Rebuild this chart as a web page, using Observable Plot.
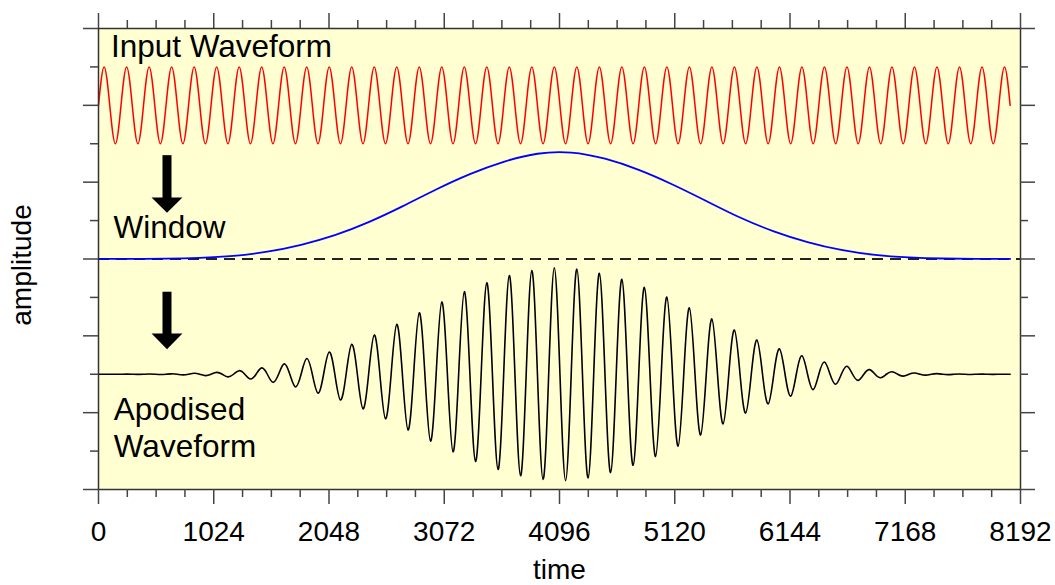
<!DOCTYPE html>
<html>
<head>
<meta charset="utf-8">
<script src="https://cdn.jsdelivr.net/npm/d3@7"></script>
<script src="https://cdn.jsdelivr.net/npm/@observablehq/plot@0.6"></script>
<style>
  html, body { margin: 0; padding: 0; background: #ffffff; }
  #chart { width: 1055px; height: 585px; }
</style>
</head>
<body>
<div id="chart"></div>
<script>
// ---- data ----
// times of the waveform extrema (peaks / troughs) and zero crossings
const extremaTimes = [50,150,250,350,450,550,650,750,850,950,1050,1150,1250,1350,1450,1550,1650,1750,1850,1950,2050,2150,2250,2350,2450,2550,2650,2750,2850,2950,3050,3150,3250,3350,3450,3550,3650,3750,3850,3950,4050,4150,4250,4350,4450,4550,4650,4750,4850,4950,5050,5150,5250,5350,5450,5550,5650,5750,5850,5950,6050,6150,6250,6350,6450,6550,6650,6750,6850,6950,7050,7150,7250,7350,7450,7550,7650,7750,7850,7950,8050];
const zeroTimes = [0,100,200,300,400,500,600,700,800,900,1000,1100,1200,1300,1400,1500,1600,1700,1800,1900,2000,2100,2200,2300,2400,2500,2600,2700,2800,2900,3000,3100,3200,3300,3400,3500,3600,3700,3800,3900,4000,4100,4200,4300,4400,4500,4600,4700,4800,4900,5000,5100,5200,5300,5400,5500,5600,5700,5800,5900,6000,6100,6200,6300,6400,6500,6600,6700,6800,6900,7000,7100,7200,7300,7400,7500,7600,7700,7800,7900,8000,8100];
// input waveform: value at each extremum
const inputExtrema = [1,-1,1,-1,1,-1,1,-1,1,-1,1,-1,1,-1,1,-1,1,-1,1,-1,1,-1,1,-1,1,-1,1,-1,1,-1,1,-1,1,-1,1,-1,1,-1,1,-1,1,-1,1,-1,1,-1,1,-1,1,-1,1,-1,1,-1,1,-1,1,-1,1,-1,1,-1,1,-1,1,-1,1,-1,1,-1,1,-1,1,-1,1,-1,1,-1,1,-1,1];
// apodised waveform: value at each extremum
const apodisedExtrema = [0.001,-0.001,0.002,-0.003,0.005,-0.007,0.011,-0.017,0.025,-0.035,0.049,-0.068,0.093,-0.125,0.165,-0.21,0.27,-0.33,0.41,-0.49,0.58,-0.67,0.78,-0.90,1.02,-1.16,1.30,-1.45,1.60,-1.74,1.88,-2.02,2.15,-2.27,2.38,-2.48,2.57,-2.64,2.70,-2.74,2.77,-2.77,2.74,-2.70,2.63,-2.56,2.47,-2.37,2.26,-2.14,2.01,-1.87,1.73,-1.58,1.44,-1.29,1.15,-1.01,0.89,-0.77,0.66,-0.57,0.48,-0.40,0.32,-0.26,0.21,-0.16,0.12,-0.09,0.066,-0.048,0.034,-0.024,0.016,-0.011,0.007,-0.005,0.003,-0.002,0.001];
// window function samples
const windowTimes = [0,300,600,900,1200,1500,1800,2100,2400,2700,3000,3300,3600,3900,4200,4500,4800,5100,5400,5700,6000,6300,6600,6900,7200,7500,7800,8100];
const windowValues = [0.001,0.002,0.009,0.03,0.08,0.19,0.37,0.62,0.96,1.37,1.81,2.21,2.53,2.74,2.77,2.61,2.32,1.94,1.51,1.08,0.72,0.44,0.235,0.105,0.041,0.013,0.004,0.001];
// ticks
const majorTimeTicks = [0,1024,2048,3072,4096,5120,6144,7168,8192];
const minorTimeTicks = [256,512,768,1280,1536,1792,2304,2560,2816,3328,3584,3840,4352,4608,4864,5376,5632,5888,6400,6656,6912,7424,7680,7936];
const majorAmpTicks = [0,2,4,6,8,10,12];
const minorAmpTicks = [1,3,5,7,9,11];
// annotation texts
const labelTexts = ["Input Waveform", "Window", "Apodised\nWaveform"];

// ---- layout (kept apart from the data) ----
const baseInput = 10, baseWindow = 6, baseApod = 3;
const labelPos = [{t: 110, y: 11.25}, {t: 133, y: 6.54}, {t: 136, y: 0.84}];
const arrowPos = [{id: 0, t: 613, top: 8.69, base: 7.57, tip: 7.19},
                  {id: 1, t: 613, top: 5.135, base: 4.03, tip: 3.64}];
const shaftHalf = 40, headHalf = 137;
// tick lengths expressed in scale units (15px and 8px)
const tMajorLenY = 0.3905, tMinorLenY = 0.2082;   // along y
const tMajorLenX = 133.3, tMinorLenX = 71.1;      // along x

function waveTable(extrema, base) {
  const rows = [];
  extrema.forEach((v, i) => {
    rows.push({t: zeroTimes[i], v: base});
    rows.push({t: extremaTimes[i], v: base + v});
  });
  rows.push({t: zeroTimes[extrema.length], v: base});
  return rows;
}
const inputRows = waveTable(inputExtrema, baseInput);
const apodRows = waveTable(apodisedExtrema, baseApod);
const windowRows = windowTimes.map((t, i) => ({t, v: baseWindow + windowValues[i]}));
const labels = labelTexts.map((text, i) => ({text, ...labelPos[i]}));
const headRows = arrowPos.flatMap(a => [
  {id: a.id, t: a.t - headHalf, lo: a.base + 0.02, hi: a.base + 0.02},
  {id: a.id, t: a.t, lo: a.tip, hi: a.base + 0.02},
  {id: a.id, t: a.t + headHalf, lo: a.base + 0.02, hi: a.base + 0.02}
]);

const font = "'Liberation Sans', Arial, Helvetica, sans-serif";
const tickStyle = {stroke: "#444", strokeWidth: 1.5};

const chart = Plot.plot({
  width: 1055,
  height: 585,
  marginLeft: 98,
  marginRight: 35,
  marginTop: 28,
  marginBottom: 96,
  x: {domain: [0, 8192], ticks: majorTimeTicks, tickFormat: d => String(d), tickSize: 0, tickPadding: 32, label: null},
  y: {domain: [0, 12], axis: null},
  style: {fontFamily: font, fontSize: "28px", background: "#ffffff", color: "#000", overflow: "visible"},
  marks: [
    Plot.frame({fill: "#ffffd2", stroke: null}),
    Plot.ruleY([baseWindow], {stroke: "#222", strokeWidth: 1.8, strokeDasharray: "11,7"}),
    Plot.line(windowRows, {x: "t", y: "v", stroke: "#0000ff", strokeWidth: 1.8, curve: "natural"}),
    Plot.line(inputRows, {x: "t", y: "v", stroke: "#ff0000", strokeWidth: 1.5, curve: "natural"}),
    Plot.line(apodRows, {x: "t", y: "v", stroke: "#000000", strokeWidth: 1.6, curve: "natural"}),
    Plot.rect(arrowPos, {x1: d => d.t - shaftHalf, x2: d => d.t + shaftHalf, y1: "base", y2: "top", fill: "#000"}),
    Plot.areaY(headRows, {x: "t", y1: "lo", y2: "hi", z: "id", fill: "#000"}),
    Plot.text(labels, {x: "t", y: "y", text: "text", textAnchor: "start", lineAnchor: "bottom", fontSize: 31.5, lineHeight: 1.17, fill: "#000"}),
    Plot.frame({stroke: "#333", strokeWidth: 1.5}),
    // time ticks: bottom (outward) and top (outward)
    Plot.ruleX(majorTimeTicks, {x: d => d, y1: 0, y2: -tMajorLenY, ...tickStyle}),
    Plot.ruleX(minorTimeTicks, {x: d => d, y1: 0, y2: -tMinorLenY, ...tickStyle}),
    Plot.ruleX(majorTimeTicks, {x: d => d, y1: 12, y2: 12 + tMajorLenY, ...tickStyle}),
    Plot.ruleX(minorTimeTicks, {x: d => d, y1: 12, y2: 12 + tMinorLenY, ...tickStyle}),
    // amplitude ticks: left and right (outward)
    Plot.ruleY(majorAmpTicks, {y: d => d, x1: 0, x2: -tMajorLenX, ...tickStyle}),
    Plot.ruleY(minorAmpTicks, {y: d => d, x1: 0, x2: -tMinorLenX, ...tickStyle}),
    Plot.ruleY(majorAmpTicks, {y: d => d, x1: 8192, x2: 8192 + tMajorLenX, ...tickStyle}),
    Plot.ruleY(minorAmpTicks, {y: d => d, x1: 8192, x2: 8192 + tMinorLenX, ...tickStyle}),
    Plot.text(["time"], {frameAnchor: "bottom", textAnchor: "middle", dy: 89, lineAnchor: "bottom", fontSize: 28, fill: "#000"}),
    Plot.text(["amplitude"], {frameAnchor: "left", textAnchor: "middle", lineAnchor: "middle", dx: -76, dy: 6, rotate: -90, fontSize: 28, fill: "#000"})
  ]
});
document.getElementById("chart").appendChild(chart);
</script>
</body>
</html>
